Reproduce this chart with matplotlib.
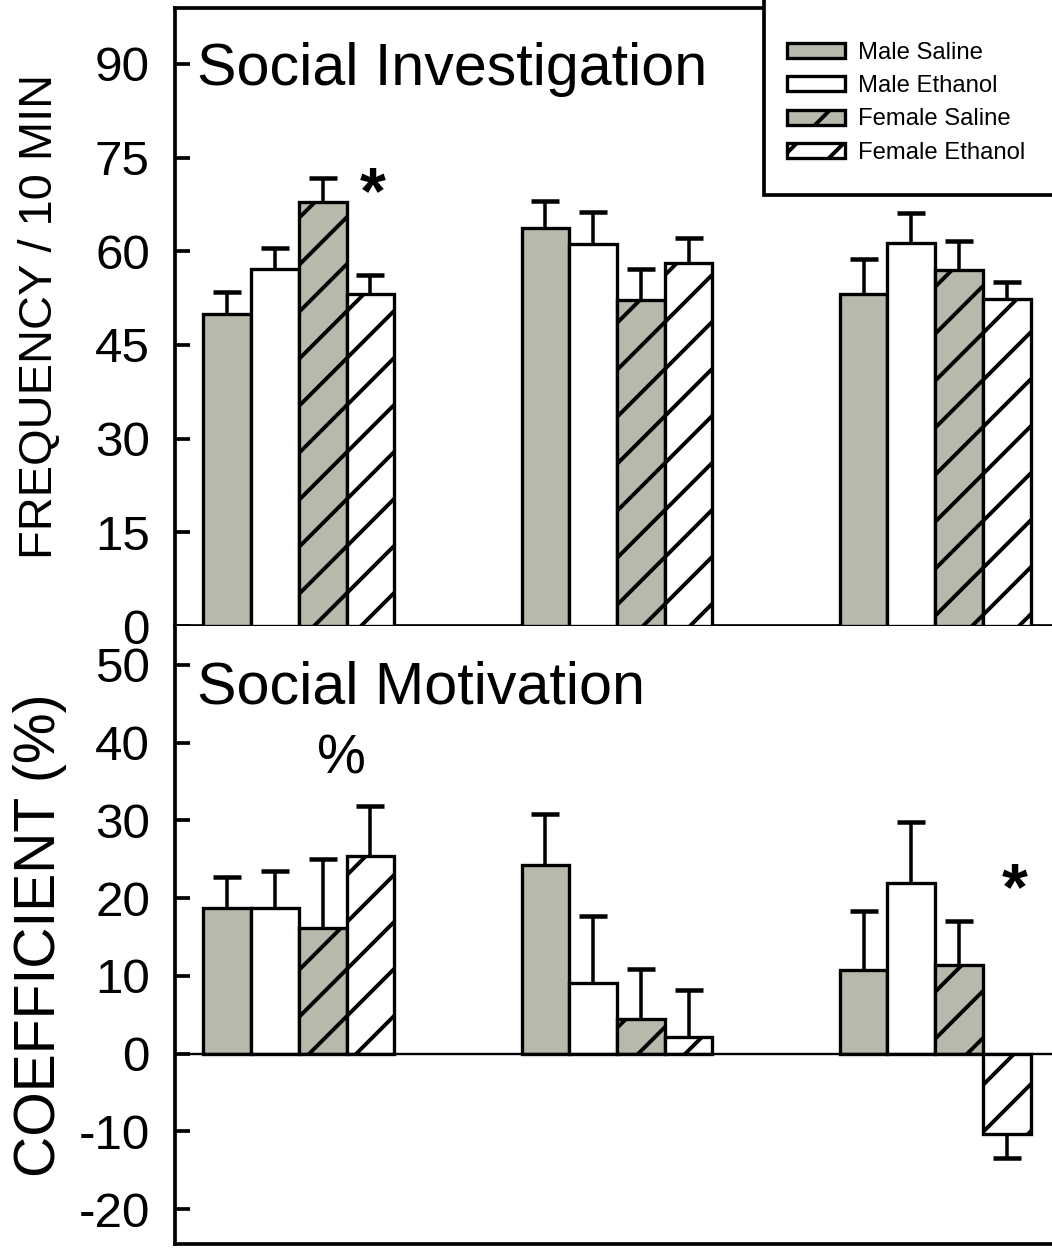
import matplotlib
matplotlib.use('Agg')
import matplotlib.pyplot as plt
import numpy as np
from matplotlib.patches import Rectangle

# high dpi so the hatch tile (1 inch) gives widely spaced diagonal lines
DPI = 282
plt.rcParams.update({
    'font.family': 'Liberation Sans',
    'hatch.linewidth': 1.0,
    'hatch.color': 'black',
    'axes.unicode_minus': False,
})

series_labels = ['Male Saline', 'Male Ethanol', 'Female Saline', 'Female Ethanol']

# Social Investigation (frequency / 10 min), one list per series, 3 groups each
si_mean = [
    [50.0, 63.7, 53.1],
    [57.2, 61.2, 61.3],
    [67.9, 52.2, 57.0],
    [53.2, 58.1, 52.3],
]
si_sem = [
    [3.5, 4.4, 5.7],
    [3.3, 5.1, 4.8],
    [3.8, 5.0, 4.7],
    [3.0, 4.0, 2.7],
]

# Social Motivation (coefficient, %)
sm_mean = [
    [18.7, 24.2, 10.7],
    [18.7, 9.1, 22.0],
    [16.2, 4.5, 11.4],
    [25.4, 2.1, -10.4],
]
sm_sem = [
    [4.0, 6.6, 7.7],
    [4.8, 8.6, 7.8],
    [8.8, 6.4, 5.7],
    [6.4, 6.1, 3.1],
]

fills = ['#b9b9ab', 'white', '#b9b9ab', 'white']
hatches = [None, None, '//', '//']

W, H = 1052, 1250
fig = plt.figure(figsize=(W / DPI, H / DPI), dpi=DPI)

left = 175 / W
axT = fig.add_axes([left, (H - 626) / H, 1 - left + 0.01, (626 - 7.6) / H])
axB = fig.add_axes([left, (H - 1244) / H, 1 - left + 0.01, (1244 - 626) / H])

x = np.arange(3)
bw = 0.15


def draw_bars(ax, means, sems):
    handles = []
    for i in range(4):
        m = np.array(means[i])
        s = np.array(sems[i])
        xpos = x + (i - 1.5) * bw
        # one-sided error bars, away from zero
        lower = np.where(m < 0, s, 0)
        upper = np.where(m >= 0, s, 0)
        ax.errorbar(xpos, m, yerr=[lower, upper], fmt='none', ecolor='black',
                    elinewidth=0.9, capsize=0, zorder=2)
        tips = np.where(m < 0, m - s, m + s)
        ax.plot(xpos, tips, ls='none', marker='_', ms=7.4, mew=1.15,
                color='black', zorder=2)
        b = ax.bar(xpos, m, bw, color=fills[i], edgecolor='black',
                   linewidth=0.85, hatch=hatches[i], zorder=3,
                   label=series_labels[i])
        handles.append(b)
    return handles


handles = draw_bars(axT, si_mean, si_sem)
draw_bars(axB, sm_mean, sm_sem)

for ax in (axT, axB):
    ax.set_xlim(-0.389, 2.40)
    ax.set_xticks([])
    ax.spines['right'].set_visible(False)
    for sp in ax.spines.values():
        sp.set_linewidth(0.95)
    ax.tick_params(axis='y', direction='in', length=3.8, width=0.95,
                   labelsize=12.6, pad=6.4)

axT.set_ylim(0, 99)
axT.set_yticks(np.arange(0, 91, 15))

axB.set_ylim(-24.5, 55)
axB.set_yticks(np.arange(-20, 51, 10))
axB.spines['top'].set_visible(False)
axB.axhline(0, color='black', linewidth=0.6, zorder=4)

# panel titles
axT.text(0.025, 0.875, 'Social Investigation', transform=axT.transAxes,
         fontsize=15.1, va='baseline', ha='left')
axB.text(0.025, 0.875, 'Social Motivation', transform=axB.transAxes,
         fontsize=15.1, va='baseline', ha='left')

# significance markers
axT.text(0.231, 68.8, '*', fontsize=17, fontweight='bold', ha='center', va='center')
axB.text(0.133, 37.8, '%', fontsize=14, ha='center', va='center')
axB.text(2.25, 20.8, '*', fontsize=17, fontweight='bold', ha='center', va='center')

# y labels
fig.text(40 / W, 1 - 316 / H, 'FREQUENCY / 10 MIN', rotation=90,
         fontsize=12.0, ha='center', va='center')
fig.text(40 / W, 1 - 935 / H, 'COEFFICIENT (%)', rotation=90,
         fontsize=14.6, ha='center', va='center')

# legend box
axT.add_patch(Rectangle(((757 - 175) / 877, (626 - 195) / 618.4), 0.6, 0.5,
                        transform=axT.transAxes, facecolor='white',
                        edgecolor='black', linewidth=0.95, zorder=5,
                        clip_on=False))
leg = axT.legend(handles=handles, labels=series_labels, loc='upper left',
                 bbox_to_anchor=(787 / W, 1 - 42 / H),
                 bbox_transform=fig.transFigure, frameon=False,
                 fontsize=6.1, handlelength=2.44, handleheight=0.59,
                 handletextpad=0.55, labelspacing=0.47, borderpad=0,
                 borderaxespad=0)
leg.set_zorder(6)

fig.savefig('out.png', dpi=DPI)
